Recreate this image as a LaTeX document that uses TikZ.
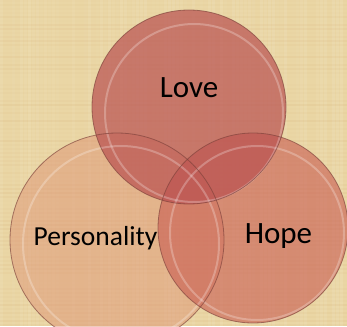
\documentclass[tikz,border=0pt]{standalone}
\usepackage{fontspec}
\setmainfont{Carlito}
\usetikzlibrary{calc}
\begin{document}
\begin{tikzpicture}[x=1pt,y=-1pt]
\definecolor{bg}{RGB}{234,214,164}
\definecolor{pcol}{RGB}{220,140,110}
\definecolor{hcol}{RGB}{200,90,80}
\definecolor{lcol}{RGB}{185,80,80}
\definecolor{edge}{RGB}{125,65,58}
\tikzset{
  ring/.style={draw=white, draw opacity=0.25, line width=2pt},
  rim/.style={draw=edge, draw opacity=0.65, line width=0.8pt},
  lbl/.style={anchor=base, inner sep=0pt, text=black}
}
\useasboundingbox (0,0) rectangle (347,326);
\fill[bg] (0,0) rectangle (347,326);
% woven parchment texture
\pgfmathsetseed{7}
\foreach \i in {0,4,...,346}{
  \pgfmathsetmacro{\op}{0.10*rnd}
  \fill[white, opacity=\op] (\i,0) rectangle ++(2.5,326);
}
\foreach \j in {0,4,...,326}{
  \pgfmathsetmacro{\op}{0.08*rnd}
  \fill[brown, opacity=\op] (0,\j) rectangle ++(347,2);
}
\coordinate (cl) at (189,107);
\coordinate (cp) at (117,240);
\coordinate (ch) at (253,228);
\begin{scope}
\clip (0,0) rectangle (347,326);
\fill[pcol, opacity=0.45] (cp) circle[radius=107];
\fill[hcol, opacity=0.6] (ch) circle[radius=95];
\fill[lcol, opacity=0.7] (cl) circle[radius=97];
% inner bevel highlights
\draw[ring] ($(cp)+(4,4)$) circle[radius=98];
\draw[ring] ($(ch)+(4,5)$) circle[radius=87];
\draw[ring] ($(cl)+(5,6)$) circle[radius=89];
% outlines
\draw[rim] (cp) circle[radius=107];
\draw[rim] (ch) circle[radius=95];
\draw[rim] (cl) circle[radius=97];
\end{scope}
\node[lbl, font=\fontsize{31}{31}\selectfont] (love) at (189,97) {Love};
\node[lbl, font=\fontsize{27.5}{27.5}\selectfont] (pers) at (95.5,245) {Personality};
\node[lbl, font=\fontsize{31}{31}\selectfont] (hope) at (278.5,243) {Hope};
\end{tikzpicture}
\end{document}
